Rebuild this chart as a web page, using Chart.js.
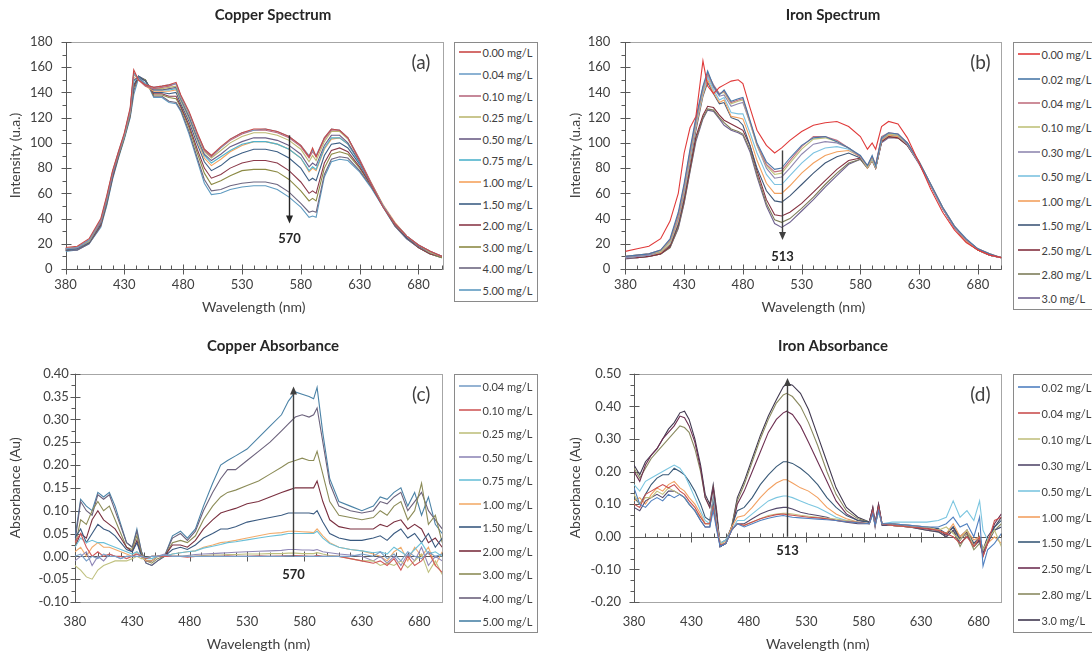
<!DOCTYPE html>
<html>
<head>
<meta charset="utf-8">
<script src="https://cdn.jsdelivr.net/npm/chart.js@4.4.1/dist/chart.umd.min.js"></script>
<style>
  html, body { margin: 0; padding: 0; background: #fff; overflow: hidden; }
  body { width: 1092px; height: 656px; position: relative; font-family: Lato, 'Liberation Sans', sans-serif; }
  canvas { position: absolute; }
  .legend { position: absolute; border: 1px solid #8a8a8a; box-sizing: border-box; background: #fff; overflow: hidden; }
  .legend .item { position: absolute; left: 0; height: 14px; margin-top: -7px; display: flex; align-items: center; font-size: 11px; color: #404040; white-space: nowrap; }
  .legend .swatch { display: inline-block; width: 22px; height: 2px; opacity: 0.8; margin: 0 1.5px 0 4px; }
</style>
</head>
<body>
<canvas id="chartA" width="546" height="328" style="left:0;top:0"></canvas>
<canvas id="chartB" width="574" height="328" style="left:546px;top:0"></canvas>
<canvas id="chartC" width="546" height="328" style="left:0;top:328px"></canvas>
<canvas id="chartD" width="574" height="328" style="left:546px;top:328px"></canvas>
<div id="legendA" class="legend"></div>
<div id="legendB" class="legend"></div>
<div id="legendC" class="legend"></div>
<div id="legendD" class="legend"></div>
<script>
// ---------- axis ticks ----------
const xTickValues = [380, 430, 480, 530, 580, 630, 680];
const specTicks = [0, 20, 40, 60, 80, 100, 120, 140, 160, 180];
const cuAbsTicks = [-0.10, -0.05, 0.00, 0.05, 0.10, 0.15, 0.20, 0.25, 0.30, 0.35, 0.40];
const feAbsTicks = [-0.20, -0.10, 0.00, 0.10, 0.20, 0.30, 0.40, 0.50];

// ---------- (a) Copper spectrum ----------
const wlA = [380,390,400,410,415,420,425,430,435,438,442,448, 455,462,468,474,478,485,492,498,504,512, 520,530,540,550,560,570,580,587,590,593, 600,606,613,620,630,640,650,660,670,680, 690,700];
const cuSpecLabels = ['0.00 mg/L','0.04 mg/L','0.10 mg/L','0.25 mg/L','0.50 mg/L','0.75 mg/L','1.00 mg/L','1.50 mg/L','2.00 mg/L','3.00 mg/L','4.00 mg/L','5.00 mg/L'];
const cuSpecColors = ['#c94a47','#6f9fc8','#b86a80','#bcb872','#6b5e86','#4fb3cc','#f5a35e','#3d5f85','#8b3a4a','#8c8a45','#6d6680','#5e9ac0'];
const cuS_000 = [17,18,24,40,58,78,93,108,128,158,150,146, 144,145,146,148,138,125,108,95,90,97, 103,108,111,111,109,105,98,89,96,89, 104,111,110,104,86,67,49,36,26,19, 14,10];
const cuS_004 = [16,17,23,39,57,77,93,107,127,155,151,146, 144,145,146,147,137,124,107,95,90,96, 103,108,110,111,109,105,98,90,94,90, 104,111,110,104,86,67,50,36,26,19, 14,10];
const cuS_010 = [16,17,23,38,56,76,92,107,126,156,150,145, 143,144,145,147,137,124,107,94,89,96, 102,107,110,110,108,104,97,88,93,89, 103,110,110,104,87,68,50,36,26,19, 14,10];
const cuS_025 = [16,17,22,38,56,77,92,106,125,154,151,145, 143,143,144,145,136,123,106,93,88,94, 100,105,108,108,106,102,95,85,90,86, 101,109,109,103,86,68,50,36,26,19, 13,10];
const cuS_050 = [16,16,22,37,55,75,91,106,124,150,152,146, 142,142,143,144,135,121,104,91,86,91, 97,101,104,104,102,98,91,81,84,82, 98,106,106,100,85,67,50,36,26,18, 13,10];
const cuS_075 = [16,16,22,37,54,75,91,105,124,149,152,147, 142,142,142,143,134,120,103,90,84,89, 94,99,101,101,99,95,88,78,81,79, 96,104,104,99,84,67,50,36,26,18, 13,10];
const cuS_100 = [16,17,22,37,55,76,91,106,124,152,150,145, 141,141,141,142,133,119,102,88,82,87, 93,98,101,101,99,95,88,77,80,78, 95,103,104,99,85,68,51,37,26,18, 13,10];
const cuS_150 = [15,16,21,36,53,74,90,105,123,146,153,149, 140,140,139,140,131,117,99,85,78,82, 88,92,95,95,93,88,80,70,72,70, 90,99,100,96,83,67,50,36,25,18, 13,10];
const cuS_200 = [15,16,21,35,53,73,90,105,123,145,152,149, 139,139,137,137,129,114,95,80,72,75, 80,84,86,86,84,78,69,60,62,60, 84,94,96,93,81,66,50,35,25,17, 12,10];
const cuS_300 = [15,16,21,35,52,73,89,104,122,144,152,150, 138,138,136,135,128,112,92,76,67,70, 74,78,79,79,77,71,62,54,56,54, 80,91,93,91,80,66,50,35,25,17, 12,9];
const cuS_400 = [15,15,20,34,51,72,89,104,121,141,153,150, 137,137,133,132,126,109,88,71,62,63, 66,68,69,69,67,61,52,45,46,45, 75,87,89,88,78,65,49,34,24,17, 12,9];
const cuS_500 = [14,15,20,33,50,71,88,103,120,138,151,150, 136,136,132,131,125,107,86,68,59,60, 63,65,66,66,63,57,49,41,42,41, 73,85,87,86,77,64,49,34,24,17, 12,9];

// ---------- (b) Iron spectrum ----------
const wlB = [380,390,400,410,418,425,430,435,440,446, 450,455,460,464,470,476,480,486,492,500, 507,513,520,530,540,550,560,570,580,586, 590,593,598,604,612,620,630,640,650,660, 670,680,690,700];
const feSpecLabels = ['0.00 mg/L','0.02 mg/L','0.04 mg/L','0.10 mg/L','0.30 mg/L','0.50 mg/L','1.00 mg/L','1.50 mg/L','2.50 mg/L','2.80 mg/L','3.0 mg/L'];
const feSpecColors = ['#e03a3a','#4a78a8','#c07080','#bfc27a','#9088b0','#7cc2e0','#f2a05e','#3f5878','#83303f','#7d7d5a','#6f6290'];
const feS_000 = [14,16,18,24,38,60,92,112,121,165, 145,139,144,146,149,150,147,128,110,98, 92,96,102,109,114,116,117,113,105,95, 100,95,113,117,115,104,84,63,45,31, 21,15,11,9];
const feS_002 = [10,11,12,15,24,45,68,95,120,145, 157,145,138,142,133,135,136,118,100,85, 79,80,88,98,104,105,101,96,90,82, 90,82,104,108,107,100,85,67,49,34, 24,16,12,9];
const feS_004 = [10,11,12,15,23,43,66,93,118,144, 155,146,139,141,132,134,135,117,99,83, 77,78,86,97,105,105,102,96,89,82, 89,83,105,108,107,100,85,67,49,34, 23,16,12,9];
const feS_010 = [10,11,12,14,22,42,65,92,117,143, 155,145,139,140,131,133,134,116,98,82, 75,76,84,95,103,104,101,96,89,81, 88,82,104,107,106,100,85,67,49,34, 23,16,12,9];
const feS_030 = [9,10,11,14,22,40,63,90,116,142, 154,144,137,138,129,131,132,116,98,80, 72,73,80,91,99,101,100,96,89,81, 88,82,103,107,106,99,84,66,48,33, 23,16,11,9];
const feS_050 = [9,10,11,14,21,40,62,88,114,140, 152,142,134,136,124,123,123,108,92,75, 67,67,74,84,92,96,97,95,89,81, 87,81,103,107,106,99,84,66,48,33, 23,16,11,9];
const feS_100 = [9,10,11,13,20,38,60,86,112,138, 150,140,132,134,121,120,119,104,86,68, 60,60,66,76,84,90,93,94,89,80, 86,80,102,106,105,99,84,66,48,33, 22,15,11,9];
const feS_150 = [9,10,11,13,19,36,58,84,110,137, 148,139,131,132,120,118,114,98,80,62, 54,53,58,67,76,84,89,92,88,80, 86,80,102,106,105,99,84,66,48,33, 22,15,11,9];
const feS_250 = [9,9,10,12,18,35,55,80,105,122, 129,128,122,118,115,112,110,98,78,55, 43,42,45,52,61,70,79,86,88,81, 87,80,101,105,104,98,84,66,48,33, 22,15,11,9];
const feS_280 = [9,9,10,12,17,33,53,78,103,120, 127,126,120,116,111,109,107,95,75,52, 39,37,40,48,57,67,76,84,87,80, 86,80,101,105,104,98,84,66,48,33, 22,15,11,9];
const feS_300 = [8,9,10,12,17,32,52,77,101,119, 126,125,119,114,110,108,106,93,73,50, 36,33,37,46,55,65,74,83,87,80, 86,80,100,104,104,98,83,66,48,33, 22,15,11,9];

// ---------- (c) Copper absorbance ----------
const wlC = [380,385,390,395,400,405,410,415,420,425, 430,434,438,442,447,452,458,465,472,478, 485,492,500,507,513,520,530,540,550,560, 566,572,578,584,588,591,596,602,610,620, 630,640,646,652,658,664,670,676,682,688, 694,700];
const cuAbsLabels = ['0.04 mg/L','0.10 mg/L','0.25 mg/L','0.50 mg/L','0.75 mg/L','1.00 mg/L','1.50 mg/L','2.00 mg/L','3.00 mg/L','4.00 mg/L','5.00 mg/L'];
const cuAbsColors = ['#7aa0c8','#d05a5a','#bfc07e','#9088b8','#6cc0d8','#f2ac6c','#3a5a80','#7a3040','#8c8c58','#6c627c','#4a82a6'];
const cuA_004 = [0.0,0.005,-0.01,0.0,-0.005,0.005,0.0,0.0,-0.005,0.0, 0.0,0.0,0.0,-0.003,0.0,0.0,0.003,0.0,0.0,0.0, 0.0,0.0,0.0,0.0,0.0,0.0,0.0,0.0,0.0,0.0, 0.001,0.0,0.0,0.0,0.0,0.0,0.0,0.0,0.0,0.0, 0.005,0.0,0.01,-0.005,0.005,-0.01,0.01,0.0,-0.005,0.01, 0.0,0.005];
const cuA_010 = [0.03,0.05,0.02,0.0,0.01,0.0,0.005,0.0,0.0,-0.005, 0.0,0.005,0.0,-0.005,0.0,0.0,0.0,0.0,0.0,-0.002, 0.0,0.0,0.0,0.0,0.001,0.0,0.0,0.001,0.0,0.001, 0.002,0.002,0.001,0.0,0.0,0.002,0.0,0.0,0.0,-0.005, -0.01,-0.015,-0.01,-0.02,-0.005,-0.03,0.0,-0.02,-0.01,0.01, -0.02,-0.035];
const cuA_025 = [-0.02,-0.03,-0.045,-0.05,-0.03,-0.02,-0.015,-0.01,-0.01,-0.01, -0.005,0.0,-0.005,-0.005,0.0,0.0,0.0,0.0,0.0,0.0, 0.0,0.002,0.003,0.003,0.004,0.004,0.005,0.005,0.006,0.006, 0.007,0.007,0.006,0.006,0.006,0.008,0.005,0.002,0.0,-0.005, -0.01,-0.01,-0.02,-0.015,-0.02,-0.01,-0.025,-0.01,0.005,-0.035, -0.01,-0.04];
const cuA_050 = [-0.01,0.0,0.01,-0.02,0.0,-0.01,0.005,0.0,-0.005,0.0, 0.0,0.005,0.0,-0.005,0.0,0.0,0.005,0.0,0.0,0.002, 0.004,0.005,0.006,0.007,0.008,0.009,0.01,0.011,0.012,0.013, 0.015,0.015,0.014,0.014,0.013,0.015,0.01,0.008,0.005,0.003, 0.0,-0.01,0.0,-0.015,0.0,-0.02,0.005,-0.01,0.02,-0.02, 0.0,-0.01];
const cuA_075 = [0.02,0.04,0.03,0.035,0.03,0.03,0.025,0.02,0.015,0.01, 0.005,0.01,0.0,-0.005,-0.005,0.0,0.0,0.005,0.008,0.01, 0.012,0.018,0.022,0.026,0.03,0.032,0.036,0.04,0.044,0.047, 0.05,0.05,0.05,0.05,0.05,0.055,0.04,0.028,0.02,0.015, 0.012,0.008,0.01,0.005,0.02,0.01,0.0,0.015,0.03,0.005, 0.01,0.0];
const cuA_100 = [0.01,0.02,0.0,0.02,0.03,0.02,0.02,0.015,0.01,0.005, 0.0,0.01,0.0,-0.01,-0.01,0.0,0.0,0.005,0.008,0.01, 0.012,0.02,0.025,0.03,0.032,0.035,0.04,0.045,0.05,0.052, 0.055,0.055,0.054,0.053,0.052,0.06,0.045,0.03,0.02,0.015, 0.012,0.005,0.0,-0.01,0.01,0.02,-0.01,0.02,0.0,0.02, -0.02,0.01];
const cuA_150 = [0.04,0.06,0.03,0.05,0.07,0.06,0.055,0.045,0.03,0.015, 0.01,0.03,0.0,-0.01,-0.01,0.0,0.0,0.015,0.02,0.015, 0.025,0.04,0.05,0.06,0.06,0.065,0.075,0.08,0.085,0.09, 0.095,0.095,0.095,0.095,0.093,0.10,0.075,0.05,0.04,0.035, 0.035,0.04,0.045,0.035,0.05,0.06,0.04,0.05,0.03,0.05, 0.02,0.04];
const cuA_200 = [0.02,0.05,0.04,0.08,0.10,0.08,0.07,0.06,0.04,0.02, 0.01,0.035,0.0,-0.01,-0.01,0.0,0.0,0.025,0.025,0.02, 0.035,0.06,0.08,0.095,0.10,0.105,0.115,0.12,0.13,0.14, 0.145,0.15,0.15,0.15,0.15,0.165,0.12,0.08,0.065,0.06, 0.06,0.06,0.07,0.065,0.075,0.08,0.06,0.07,0.06,0.03, 0.04,0.02];
const cuA_300 = [0.02,0.08,0.07,0.10,0.12,0.10,0.11,0.08,0.05,0.02, 0.015,0.045,0.005,-0.01,-0.015,-0.005,0.0,0.03,0.035,0.03, 0.045,0.08,0.11,0.13,0.14,0.145,0.155,0.165,0.18,0.195, 0.205,0.21,0.215,0.21,0.21,0.23,0.18,0.12,0.09,0.085, 0.08,0.085,0.10,0.09,0.11,0.12,0.08,0.10,0.16,0.07, 0.09,0.03];
const cuA_400 = [0.03,0.12,0.10,0.09,0.135,0.125,0.135,0.10,0.065,0.03, 0.02,0.055,0.01,-0.015,-0.02,-0.01,0.0,0.04,0.05,0.035, 0.055,0.10,0.14,0.17,0.19,0.19,0.21,0.23,0.25,0.275, 0.29,0.305,0.31,0.305,0.31,0.325,0.25,0.16,0.11,0.10, 0.095,0.10,0.12,0.115,0.13,0.14,0.10,0.12,0.14,0.10, 0.08,0.06];
const cuA_500 = [0.04,0.125,0.11,0.10,0.14,0.13,0.14,0.11,0.07,0.03, 0.02,0.06,0.01,-0.015,-0.02,-0.01,0.0,0.045,0.055,0.04, 0.06,0.11,0.16,0.20,0.21,0.22,0.235,0.26,0.285,0.31, 0.34,0.36,0.355,0.35,0.345,0.37,0.27,0.17,0.12,0.11, 0.10,0.11,0.13,0.125,0.14,0.15,0.11,0.14,0.09,0.13, 0.07,0.05];

// ---------- (d) Iron absorbance ----------
const wlD = [380,385,390,395,400,405,410,415,420,424, 428,433,438,442,446,449,452,455,460,465, 470,476,483,490,497,504,510,513,518,525, 532,540,548,556,565,575,585,588,590,593, 596,605,620,635,645,652,658,664,670,676, 681,684,688,694,700];
const feAbsLabels = ['0.02 mg/L','0.04 mg/L','0.10 mg/L','0.30 mg/L','0.50 mg/L','1.00 mg/L','1.50 mg/L','2.50 mg/L','2.80 mg/L','3.0 mg/L'];
const feAbsColors = ['#5080c0','#c95050','#c2c080','#544a6c','#7cc6e0','#f2a060','#3a5a78','#6e3052','#8a8a60','#403850'];
const feA_002 = [0.15,0.10,0.09,0.11,0.12,0.11,0.13,0.12,0.13,0.12, 0.10,0.08,0.05,0.03,0.03,0.08,0.02,-0.03,-0.02,0.02, 0.04,0.03,0.04,0.05,0.057,0.062,0.065,0.063,0.06,0.058, 0.056,0.054,0.052,0.05,0.046,0.043,0.04,0.07,0.035,0.08, 0.04,0.04,0.035,0.03,0.03,0.04,0.06,0.03,0.04,0.0, 0.06,-0.09,-0.04,-0.02,0.01];
const feA_004 = [0.10,0.09,0.13,0.14,0.15,0.16,0.15,0.16,0.14,0.13, 0.11,0.09,0.06,0.04,0.04,0.09,0.03,-0.025,-0.02,0.02, 0.04,0.035,0.045,0.055,0.062,0.068,0.07,0.068,0.066,0.063, 0.06,0.058,0.055,0.05,0.047,0.044,0.04,0.08,0.035,0.09, 0.04,0.035,0.03,0.025,0.02,0.01,0.0,-0.02,0.0,-0.03, 0.0,-0.06,-0.02,0.05,0.06];
const feA_010 = [0.13,0.10,0.12,0.12,0.14,0.13,0.15,0.14,0.13,0.12, 0.10,0.08,0.06,0.04,0.04,0.09,0.03,-0.02,-0.02,0.02, 0.04,0.035,0.045,0.055,0.065,0.07,0.072,0.072,0.07,0.066, 0.063,0.06,0.057,0.054,0.05,0.045,0.04,0.07,0.035,0.08, 0.04,0.035,0.03,0.03,0.02,0.03,0.01,-0.01,0.02,-0.03, 0.0,-0.04,-0.01,0.02,-0.03];
const feA_030 = [0.09,0.08,0.11,0.12,0.13,0.12,0.14,0.14,0.13,0.12, 0.10,0.08,0.05,0.03,0.03,0.10,0.03,-0.03,-0.02,0.02, 0.04,0.04,0.055,0.07,0.08,0.087,0.09,0.09,0.085,0.075, 0.07,0.065,0.06,0.05,0.045,0.04,0.04,0.08,0.03,0.09, 0.035,0.035,0.03,0.02,0.015,0.0,0.02,-0.02,0.0,-0.02, -0.01,-0.05,-0.02,0.02,0.03];
const feA_050 = [0.16,0.14,0.17,0.18,0.19,0.20,0.21,0.22,0.21,0.19, 0.16,0.12,0.08,0.05,0.04,0.11,0.04,-0.02,-0.01,0.02, 0.05,0.05,0.07,0.09,0.11,0.12,0.125,0.125,0.12,0.11, 0.10,0.09,0.075,0.06,0.05,0.045,0.04,0.07,0.035,0.075, 0.04,0.045,0.045,0.045,0.05,0.06,0.11,0.06,0.08,0.05, 0.11,0.02,-0.01,0.02,0.03];
const feA_100 = [0.11,0.12,0.10,0.13,0.15,0.14,0.16,0.17,0.15,0.14, 0.12,0.10,0.07,0.04,0.04,0.11,0.04,-0.02,-0.015,0.03, 0.06,0.065,0.09,0.12,0.145,0.165,0.175,0.175,0.165,0.15, 0.14,0.12,0.09,0.07,0.055,0.045,0.04,0.075,0.035,0.08, 0.04,0.04,0.035,0.03,0.02,0.01,0.04,0.0,0.02,-0.01, 0.0,-0.05,-0.02,0.0,-0.02];
const feA_150 = [0.12,0.10,0.13,0.16,0.18,0.19,0.19,0.21,0.20,0.19, 0.17,0.14,0.10,0.06,0.05,0.12,0.05,-0.02,-0.01,0.03, 0.08,0.09,0.12,0.16,0.19,0.215,0.23,0.23,0.225,0.21, 0.19,0.16,0.12,0.09,0.065,0.05,0.045,0.08,0.04,0.09, 0.04,0.04,0.035,0.03,0.025,0.01,0.03,-0.01,0.02,-0.02, 0.0,-0.04,-0.02,0.03,0.05];
const feA_250 = [0.20,0.17,0.22,0.25,0.27,0.30,0.32,0.34,0.37,0.365, 0.34,0.29,0.21,0.12,0.09,0.15,0.07,-0.03,-0.02,0.02, 0.10,0.14,0.20,0.26,0.32,0.36,0.38,0.385,0.375,0.34, 0.29,0.23,0.17,0.11,0.07,0.05,0.045,0.09,0.04,0.10, 0.04,0.035,0.03,0.025,0.02,0.005,0.03,-0.01,0.015,-0.03, -0.01,-0.06,-0.02,0.04,0.07];
const feA_280 = [0.21,0.18,0.21,0.24,0.26,0.28,0.30,0.32,0.34,0.335, 0.32,0.27,0.20,0.12,0.09,0.15,0.07,-0.03,-0.02,0.03, 0.11,0.16,0.23,0.30,0.36,0.41,0.435,0.44,0.43,0.40, 0.35,0.28,0.20,0.13,0.08,0.055,0.045,0.085,0.04,0.095, 0.04,0.035,0.03,0.02,0.015,0.0,0.02,-0.03,0.01,-0.04, -0.02,-0.05,-0.01,0.02,0.04];
const feA_300 = [0.22,0.19,0.23,0.25,0.27,0.30,0.33,0.35,0.38,0.385, 0.36,0.30,0.22,0.13,0.10,0.16,0.08,-0.03,-0.02,0.03, 0.12,0.17,0.24,0.31,0.37,0.42,0.46,0.47,0.465,0.44, 0.39,0.31,0.23,0.15,0.09,0.06,0.045,0.09,0.04,0.10, 0.04,0.04,0.03,0.025,0.02,0.01,0.03,0.0,0.02,-0.03, -0.01,-0.04,0.0,0.03,0.06];

Chart.defaults.font.family = "Lato, 'Liberation Sans', sans-serif";
Chart.defaults.color = '#404040';

// plot frame, zero axis, minor/major tick marks, arrow + panel tag
const panelDecor = {
    id: 'panelDecor',
    beforeDatasetsDraw(chart, args, o) {
        const {ctx, chartArea: a, scales: {x, y}} = chart;
        ctx.save();
        ctx.lineWidth = 1;
        ctx.strokeStyle = '#a6a6a6';
        ctx.strokeRect(Math.round(a.left) + 0.5, Math.round(a.top) + 0.5, Math.round(a.width), Math.round(a.height));

        ctx.strokeStyle = '#595959';
        const xl = Math.round(a.left) + 0.5;
        const y0 = Math.round(y.getPixelForValue(0)) + 0.5;
        ctx.beginPath();
        ctx.moveTo(xl, a.top); ctx.lineTo(xl, a.bottom);
        ctx.moveTo(a.left, y0); ctx.lineTo(a.right, y0);
        // x minor ticks (inside) and major ticks (cross)
        for (let v = x.min; v <= x.max; v += 10) {
            const px = Math.round(x.getPixelForValue(v)) + 0.5;
            const major = xTickValues.includes(v);
            ctx.moveTo(px, y0 - (major ? 5 : 4));
            ctx.lineTo(px, y0 + (major ? 5 : 0));
        }
        // y major ticks (cross) and minor ticks (outside)
        const yt = y.ticks.map(t => t.value);
        const step = (yt[1] - yt[0]) / o.yMinorDiv;
        for (let k = 0; ; k++) {
            const v = yt[0] + k * step;
            if (v > y.max + 1e-9) break;
            const py = Math.round(y.getPixelForValue(v)) + 0.5;
            const major = k % o.yMinorDiv === 0;
            ctx.moveTo(xl - (major ? 5 : 4), py);
            ctx.lineTo(xl + (major ? 5 : 0), py);
        }
        ctx.stroke();
        ctx.restore();
    },
    afterDatasetsDraw(chart, args, o) {
        const {ctx, chartArea: a, scales: {x, y}} = chart;
        const ar = o.arrow;
        ctx.save();
        const px = Math.round(x.getPixelForValue(ar.at)) + 0.5;
        const p1 = y.getPixelForValue(ar.from);
        const p2 = y.getPixelForValue(ar.to);
        const dir = p2 > p1 ? 1 : -1;
        ctx.strokeStyle = ar.color;
        ctx.fillStyle = ar.color;
        ctx.lineWidth = 1.4;
        ctx.beginPath();
        ctx.moveTo(px, p1);
        ctx.lineTo(px, p2 - dir * 6);
        ctx.stroke();
        ctx.beginPath();
        ctx.moveTo(px, p2);
        ctx.lineTo(px - 3.5, p2 - dir * 8);
        ctx.lineTo(px + 3.5, p2 - dir * 8);
        ctx.closePath();
        ctx.fill();

        ctx.textAlign = 'center';
        ctx.textBaseline = 'middle';
        ctx.fillStyle = '#262626';
        ctx.font = "bold 13px Lato, 'Liberation Sans', sans-serif";
        ctx.fillText(ar.label, px, y.getPixelForValue(ar.labelAt));

        ctx.fillStyle = '#404040';
        ctx.font = "19px Lato, 'Liberation Sans', sans-serif";
        ctx.fillText(o.tag, a.right - 21, a.top + 21);
        ctx.restore();
    }
};

function buildPanel(id, p) {
    const ctx = document.getElementById(id).getContext('2d');
    const datasets = p.series.map((vals, i) => ({
        label: p.labels[i],
        data: vals.map((v, k) => ({x: p.wl[k], y: v})),
        borderColor: p.colors[i],
        borderWidth: 1.1,
        pointRadius: 0,
        fill: false
    }));

    const config = {
        type: 'line',
        data: { datasets: datasets },
        options: {
            responsive: false,
            animation: false,
            devicePixelRatio: 1,
            layout: { padding: 0 },
            plugins: {
                legend: { display: false },
                tooltip: { enabled: false },
                title: {
                    display: true,
                    text: p.title,
                    color: '#262626',
                    font: { size: 15, weight: 'bold' },
                    padding: { top: p.titleTop, bottom: p.titleBottom }
                },
                panelDecor: p.decor
            },
            scales: {
                x: {
                    type: 'linear',
                    min: 380,
                    max: 700,
                    afterBuildTicks: (s) => { s.ticks = xTickValues.map(v => ({value: v})); },
                    afterFit: (s) => { s.height = p.xHeight; },
                    grid: { display: false, drawTicks: false },
                    border: { display: false },
                    ticks: { padding: p.xTickPad, color: '#404040', font: { size: 13 }, maxRotation: 0, autoSkip: false },
                    title: { display: true, text: 'Wavelength (nm)', color: '#404040', font: { size: 14 }, padding: { top: 0, bottom: p.xTitlePad } }
                },
                y: {
                    type: 'linear',
                    min: p.yTicks[0],
                    max: p.yTicks[p.yTicks.length - 1],
                    afterBuildTicks: (s) => { s.ticks = p.yTicks.map(v => ({value: v})); },
                    afterFit: (s) => { s.width = p.yWidth; },
                    grid: { display: false, drawTicks: false },
                    border: { display: false },
                    ticks: { padding: p.yTickPad, color: '#404040', font: { size: 13 }, callback: p.yFormat },
                    title: { display: true, text: p.yTitle, color: '#404040', font: { size: 14 }, padding: { top: p.yTitlePad, bottom: 0 } }
                },
                pad: {
                    type: 'linear',
                    position: 'right',
                    display: true,
                    grid: { display: false, drawTicks: false },
                    border: { display: false },
                    ticks: { display: false },
                    afterFit: (s) => { s.width = p.padWidth; }
                }
            }
        },
        plugins: [panelDecor]
    };
    return new Chart(ctx, config);
}

function buildLegend(id, labels, colors, box) {
    const el = document.getElementById(id);
    el.style.left = box.left + 'px';
    el.style.top = box.top + 'px';
    el.style.width = box.width + 'px';
    el.style.height = box.height + 'px';
    labels.forEach((lab, i) => {
        const row = document.createElement('div');
        row.className = 'item';
        row.style.top = Math.round(box.first - box.top - 1 + i * box.step) + 'px';
        const sw = document.createElement('span');
        sw.className = 'swatch';
        sw.style.background = colors[i];
        row.appendChild(sw);
        row.appendChild(document.createTextNode(lab));
        el.appendChild(row);
    });
}

const fmtInt = (v) => String(v);
const fmt2 = (v) => (Math.abs(v) < 1e-9 ? 0 : v).toFixed(2);

buildPanel('chartA', {
    title: 'Copper Spectrum', yTitle: 'Intensity (u.a.)',
    wl: wlA, labels: cuSpecLabels, colors: cuSpecColors,
    series: [cuS_000, cuS_004, cuS_010, cuS_025, cuS_050, cuS_075, cuS_100, cuS_150, cuS_200, cuS_300, cuS_400, cuS_500],
    yTicks: specTicks, yFormat: fmtInt,
    titleTop: 6, titleBottom: 18, xHeight: 59, xTickPad: 8, xTitlePad: 12, yWidth: 65.5, yTickPad: 13, yTitlePad: 7.3, padWidth: 104,
    decor: { yMinorDiv: 2, tag: '(a)', arrow: { at: 570, from: 106, to: 36, label: '570', labelAt: 24, color: '#262626' } }
});

buildPanel('chartB', {
    title: 'Iron Spectrum', yTitle: 'Intensity (u.a.)',
    wl: wlB, labels: feSpecLabels, colors: feSpecColors,
    series: [feS_000, feS_002, feS_004, feS_010, feS_030, feS_050, feS_100, feS_150, feS_250, feS_280, feS_300],
    yTicks: specTicks, yFormat: fmtInt,
    titleTop: 6, titleBottom: 18, xHeight: 59, xTickPad: 8, xTitlePad: 12, yWidth: 79.4, yTickPad: 15, yTitlePad: 21.2, padWidth: 118.6,
    decor: { yMinorDiv: 2, tag: '(b)', arrow: { at: 513, from: 94, to: 23, label: '513', labelAt: 10, color: '#404040' } }
});

buildPanel('chartC', {
    title: 'Copper Absorbance', yTitle: 'Absorbance (Au)',
    wl: wlC, labels: cuAbsLabels, colors: cuAbsColors,
    series: [cuA_004, cuA_010, cuA_025, cuA_050, cuA_075, cuA_100, cuA_150, cuA_200, cuA_300, cuA_400, cuA_500],
    yTicks: cuAbsTicks, yFormat: fmt2,
    titleTop: 9, titleBottom: 18.7, xHeight: 54, xTickPad: 12, xTitlePad: 3.6, yWidth: 74.9, yTickPad: 6, yTitlePad: 7.3, padWidth: 103.8,
    decor: { yMinorDiv: 2, tag: '(c)', arrow: { at: 570, from: 0, to: 0.372, label: '570', labelAt: -0.04, color: '#404040' } }
});

buildPanel('chartD', {
    title: 'Iron Absorbance', yTitle: 'Absorbance (Au)',
    wl: wlD, labels: feAbsLabels, colors: feAbsColors,
    series: [feA_002, feA_004, feA_010, feA_030, feA_050, feA_100, feA_150, feA_250, feA_280, feA_300],
    yTicks: feAbsTicks, yFormat: fmt2,
    titleTop: 9, titleBottom: 18.7, xHeight: 54, xTickPad: 12, xTitlePad: 3.6, yWidth: 88, yTickPad: 13, yTitlePad: 21.2, padWidth: 118.6,
    decor: { yMinorDiv: 3, tag: '(d)', arrow: { at: 513, from: 0, to: 0.487, label: '513', labelAt: -0.043, color: '#404040' } }
});

buildLegend('legendA', cuSpecLabels, cuSpecColors, { left: 454, top: 42, width: 84, height: 260, first: 52.3, step: 21.6 });
buildLegend('legendB', feSpecLabels, feSpecColors, { left: 1013, top: 42, width: 100, height: 268, first: 54.3, step: 24.4 });
buildLegend('legendC', cuAbsLabels, cuAbsColors, { left: 454, top: 374, width: 84, height: 259, first: 386.3, step: 23.5 });
buildLegend('legendD', feAbsLabels, feAbsColors, { left: 1013, top: 374, width: 100, height: 259, first: 387, step: 25.9 });
</script>
</body>
</html>
